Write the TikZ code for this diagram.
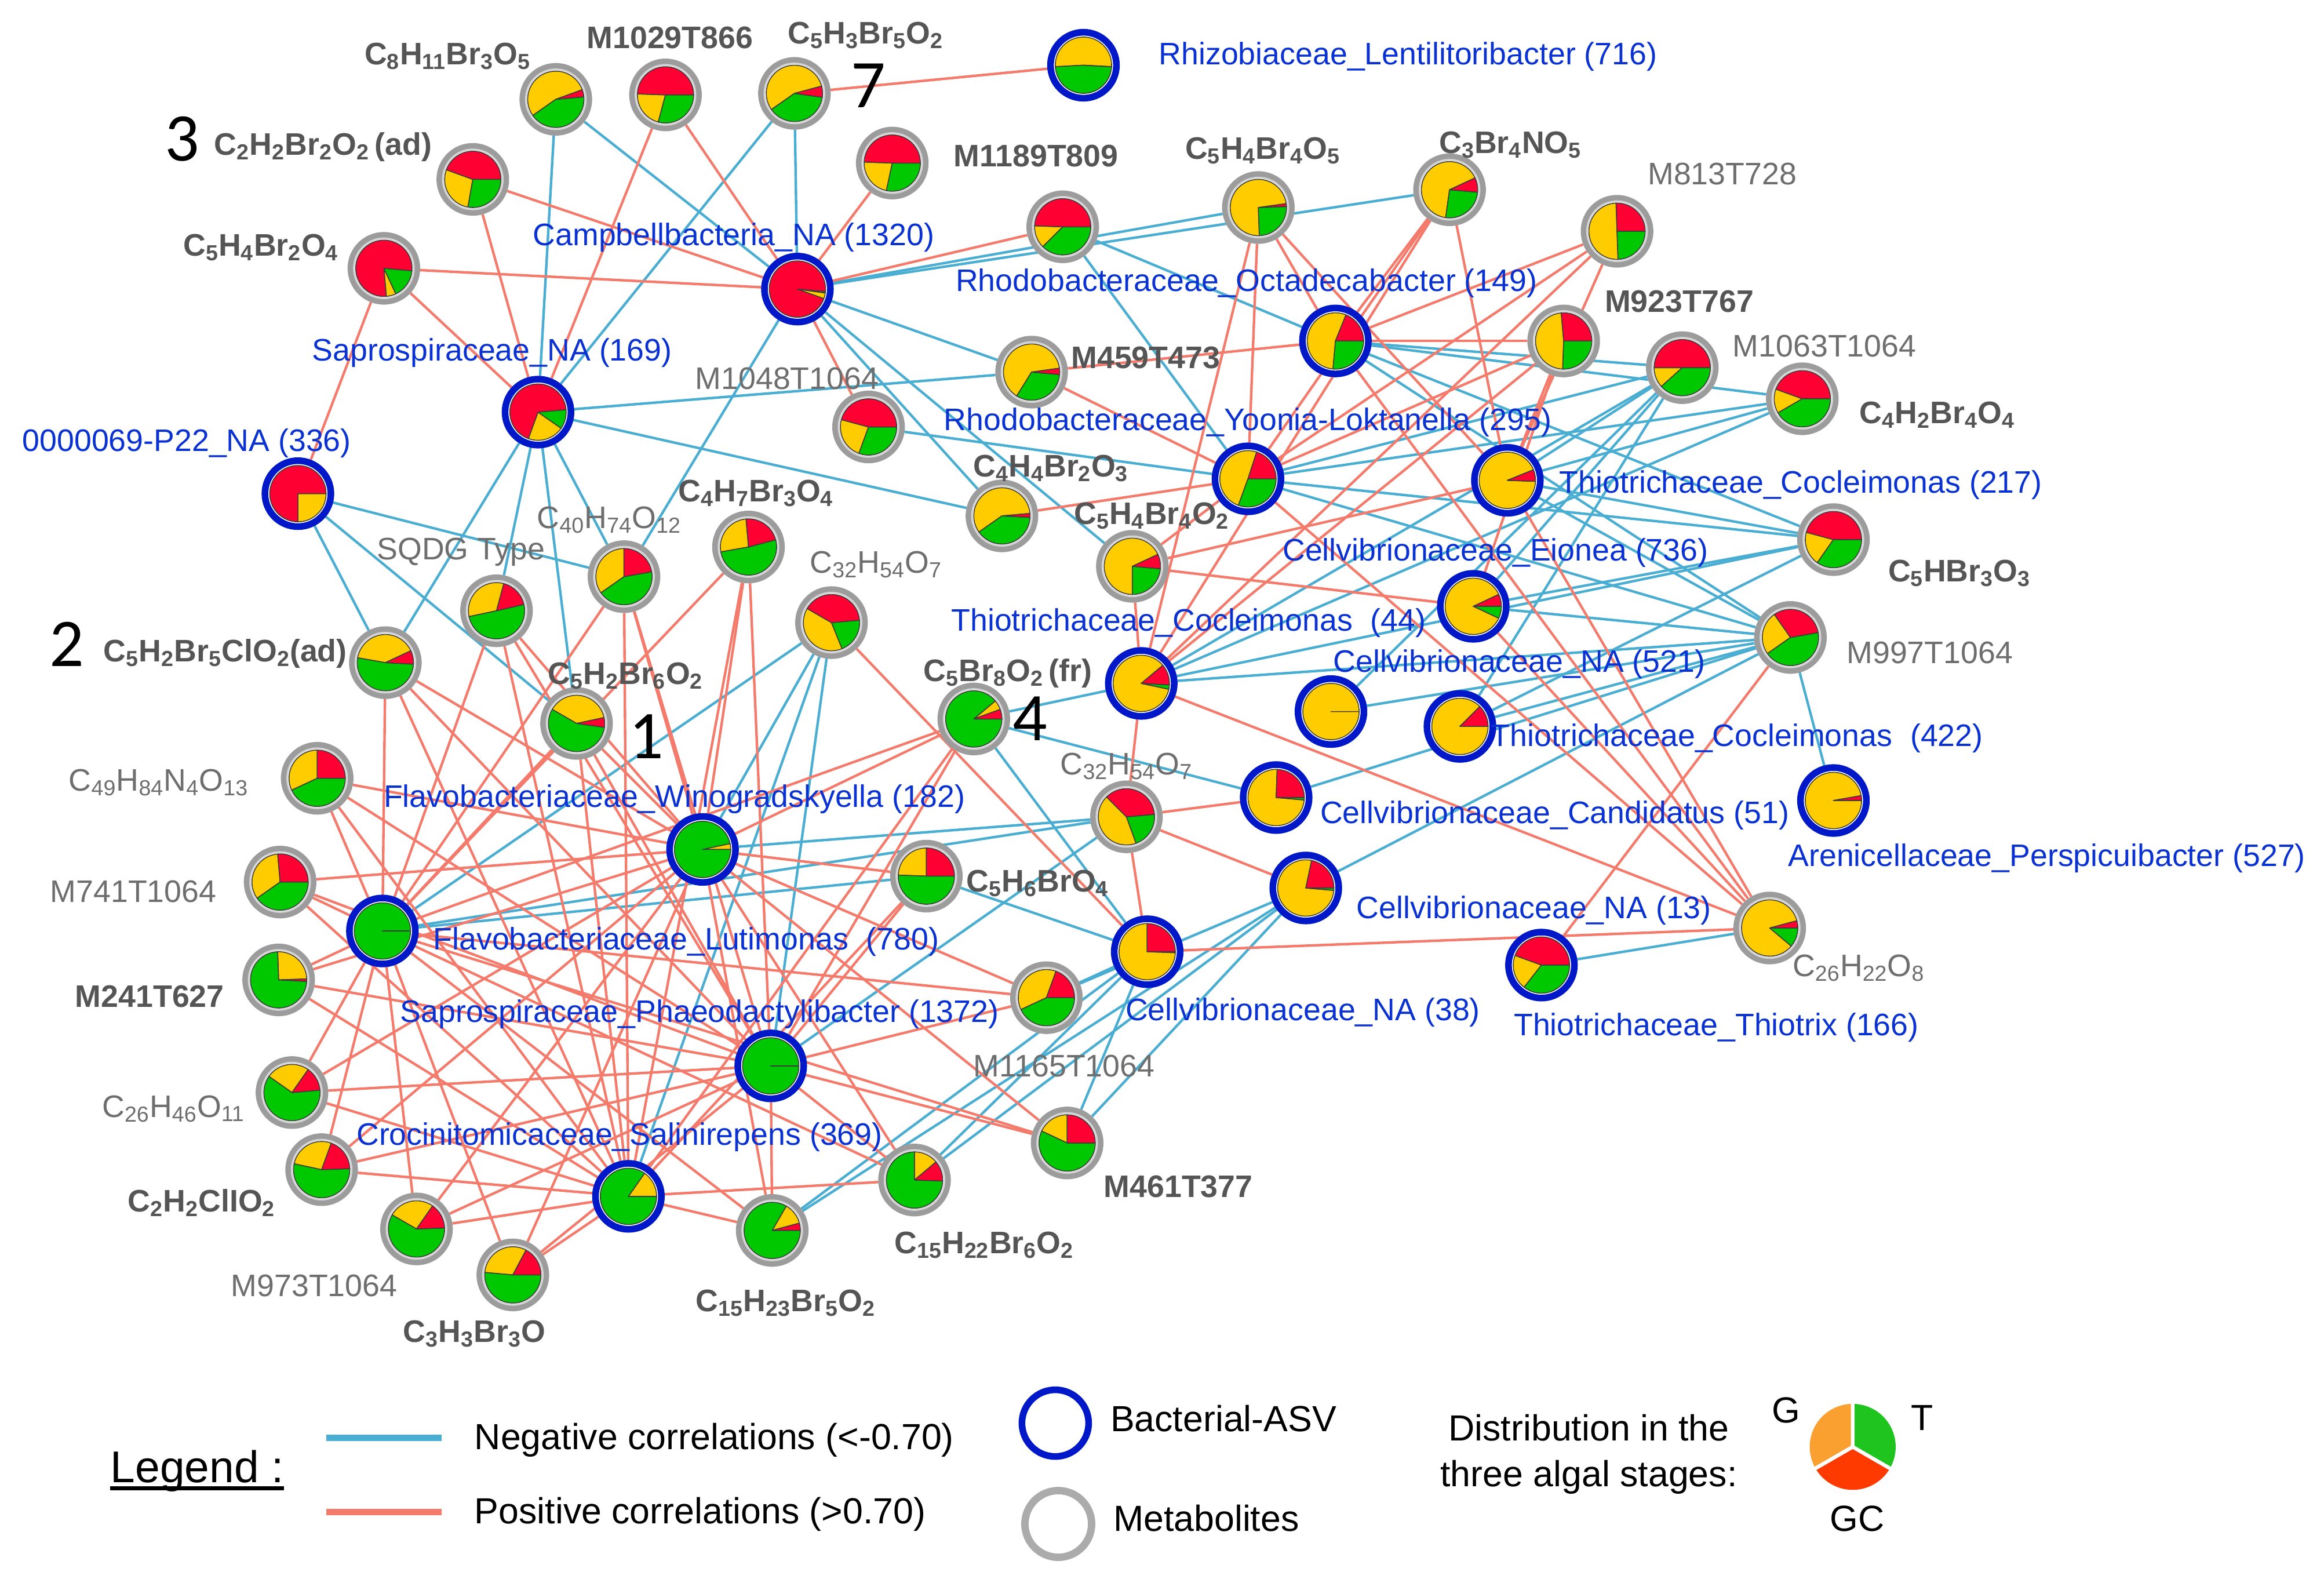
\documentclass[tikz,border=0pt]{standalone}
\usepackage{fontspec}
\setmainfont{Liberation Sans}
\newfontfamily\numfont{Carlito}
\usetikzlibrary{calc}
\pgfdeclarelayer{bglayer}
\pgfdeclarelayer{edgelayer}
\pgfsetlayers{bglayer,edgelayer,main}
\definecolor{pY}{HTML}{FFCC00}
\definecolor{pG}{HTML}{00C800}
\definecolor{pR}{HTML}{FF0033}
\definecolor{pline}{HTML}{3C3C3C}
\definecolor{metring}{HTML}{9C9C9C}
\definecolor{metinner}{HTML}{D4D4D4}
\definecolor{bacring}{HTML}{0018C8}
\definecolor{negc}{HTML}{4AAED3}
\definecolor{posc}{HTML}{F47A6C}
\definecolor{bactxt}{HTML}{0A32D2}
\definecolor{mbold}{HTML}{555555}
\definecolor{mreg}{HTML}{6E6E6E}
\definecolor{legO}{HTML}{F9A030}
\definecolor{legG}{HTML}{1FC41F}
\definecolor{legR}{HTML}{FF3A00}
\newcommand{\sbs}[1]{\textsubscript{#1}}
\newcommand{\pierad}{19pt}
\newcommand{\drawpie}[4]{%
  \pgfmathsetmacro\pxa{#2}\pgfmathsetmacro\pxb{#3}\pgfmathsetmacro\pxc{#4}\pgfmathsetmacro\pxd{#2+360}%
  \filldraw[fill=pY,draw=pline,line width=0.6pt,line join=round] (#1.center) -- ++(\pxa:\pierad) arc[start angle=\pxa,end angle=\pxb,radius=\pierad] -- cycle;
  \filldraw[fill=pG,draw=pline,line width=0.6pt,line join=round] (#1.center) -- ++(\pxb:\pierad) arc[start angle=\pxb,end angle=\pxc,radius=\pierad] -- cycle;
  \filldraw[fill=pR,draw=pline,line width=0.6pt,line join=round] (#1.center) -- ++(\pxc:\pierad) arc[start angle=\pxc,end angle=\pxd,radius=\pierad] -- cycle;
}
\newcommand{\metnd}[6]{\node[metnode] (#1) at (#2,#3) {};\draw[metinner,line width=1.2pt] (#1.center) circle[radius=20.2pt];\drawpie{#1}{#4}{#5}{#6}}
\newcommand{\bacnd}[6]{\node[bacnode] (#1) at (#2,#3) {};\drawpie{#1}{#4}{#5}{#6}}
\begin{document}
\begin{tikzpicture}[x=1pt,y=-1pt,
  metnode/.style={circle,draw=metring,line width=4pt,fill=white,minimum size=45pt,inner sep=0pt},
  bacnode/.style={circle,draw=bacring,line width=4.5pt,fill=white,minimum size=44.5pt,inner sep=0pt},
  negedge/.style={draw=negc,line width=1.7pt},
  posedge/.style={draw=posc,line width=1.7pt},
  lblbase/.style={inner sep=0pt,text height=15pt,text depth=0pt,font=\fontsize{21}{25}\selectfont},
  bactext/.style={lblbase,text=bactxt},
  metbold/.style={lblbase,text=mbold,font=\fontsize{21}{25}\selectfont\bfseries},
  metreg/.style={lblbase,text=mreg},
  bignum/.style={inner sep=0pt,text height=29pt,text depth=0pt,font=\numfont\fontsize{46}{50}\selectfont},
  legtext/.style={inner sep=0pt,text height=17.5pt,text depth=0pt,font=\fontsize{24.5}{29}\selectfont}]
\begin{pgfonlayer}{bglayer}
\fill[white] (0,0) rectangle (1568,1064.8);
\end{pgfonlayer}
\useasboundingbox (0,0) rectangle (1568,1064.8);
% ---------- nodes ----------
\metnd{m1}{375}{67}{20}{215}{365}
\metnd{m2}{449}{64}{178}{255}{360}
\metnd{m3}{536}{63}{15}{215}{352}
\bacnd{b1}{731}{44}{-3}{183}{357}
\metnd{m4}{319}{121}{160}{260}{360}
\metnd{m5}{602}{110}{178}{258}{360}
\metnd{m6}{717}{153}{178}{225}{360}
\metnd{m7}{849}{140}{8}{272}{362}
\metnd{m8}{978}{128}{25}{262}{355}
\metnd{m9}{1091}{156}{92}{272}{360}
\metnd{m10}{259}{181}{275}{295}{355}
\bacnd{b2}{538}{195}{340}{352}{355}
\bacnd{b3}{901}{230}{68}{265}{360}
\metnd{m11}{1055}{230}{95}{268}{360}
\metnd{m12}{1135}{248}{180}{222}{360}
\metnd{m13}{1216}{269}{160}{210}{360}
\bacnd{b4}{363}{278}{250}{325}{365}
\metnd{m14}{696}{251}{8}{238}{355}
\metnd{m15}{586}{288}{165}{250}{360}
\bacnd{b5}{201}{333}{270}{360}{360}
\bacnd{b6}{842}{323}{72}{250}{360}
\bacnd{b7}{1017}{324}{22}{358}{358}
\metnd{m16}{676}{348}{5}{215}{357}
\metnd{m17}{1237}{364}{165}{235}{360}
\metnd{m18}{505}{369}{95}{190}{375}
\metnd{m19}{421}{389}{90}{215}{370}
\metnd{m20}{335}{412}{75}{192}{373}
\metnd{m21}{561}{420}{150}{292}{365}
\metnd{m22}{764}{382}{25}{270}{355}
\bacnd{b8}{994}{409}{25}{335}{360}
\metnd{m23}{1208}{430}{125}{215}{370}
\metnd{m24}{260}{447}{25}{170}{357}
\metnd{m25}{389}{488}{12}{150}{352}
\metnd{m26}{657}{485}{20}{40}{360}
\bacnd{b9}{770}{461}{40}{348}{357}
\bacnd{b10}{898}{480}{0}{360}{360}
\bacnd{b11}{985}{490}{45}{360}{360}
\metnd{m27}{214}{525}{90}{205}{360}
\bacnd{b12}{474}{573}{0}{12}{360}
\metnd{m28}{760}{551}{135}{290}{365}
\bacnd{b13}{861}{538}{88}{355}{360}
\bacnd{b14}{1237}{540}{10}{360}{360}
\metnd{m29}{189}{595}{95}{215}{360}
\bacnd{b15}{258}{628}{0}{0}{360}
\metnd{m30}{625}{591}{90}{178}{360}
\bacnd{b16}{881}{599}{78}{355}{360}
\metnd{m31}{188}{661}{2}{92}{357}
\bacnd{b17}{774}{642}{90}{358}{360}
\bacnd{b18}{1040}{651}{160}{232}{360}
\metnd{m32}{1194}{626}{15}{320}{360}
\bacnd{b19}{520}{719}{0}{0}{360}
\metnd{m33}{706}{673}{70}{205}{360}
\metnd{m34}{197}{737}{55}{145}{365}
\bacnd{b20}{424}{807}{0}{55}{360}
\metnd{m35}{720}{771}{90}{155}{360}
\metnd{m36}{217}{789}{70}{168}{362}
\metnd{m37}{281}{829}{55}{150}{362}
\metnd{m38}{346}{860}{62}{175}{360}
\metnd{m39}{521}{830}{15}{60}{360}
\metnd{m40}{617}{796}{40}{90}{358}
% ---------- edges ----------
\begin{pgfonlayer}{edgelayer}
\foreach \u/\v in {b2/m1,b2/m3,b2/m7,b2/m8,b2/m14,b2/m16,b2/m19,b2/m22,%
b4/m1,b4/m3,b4/m14,b4/m16,b4/m24,b4/m20,b4/m25,b4/m19,%
b5/m19,b5/m25,b5/m24,%
b3/m6,b3/m12,b3/m17,b3/m23,b3/m13,%
b6/m6,b6/m15,b6/m12,b6/m13,b6/m17,b6/m23,%
b7/m12,b7/m13,b7/m17,b7/m23,%
b8/m12,b8/m17,b8/m23,%
b9/m12,b9/m13,b9/m17,b9/m23,b9/m26,%
b10/m23,b10/m12,b11/m23,b11/m17,b11/m12,%
b13/m23,b13/m26,b14/m23,%
b16/m23,b16/m33,b16/m35,b16/m39,b16/m40,%
b17/m26,b17/m30,b17/m33,b17/m35,b17/m39,b17/m40,%
b18/m32,b15/m21,b15/m28,b15/m30,b12/m21,b12/m28,b19/m21,b19/m28,b20/m21}
  \draw[negedge] (\u) -- (\v);
\foreach \u/\v in {b1/m3,b2/m2,b2/m4,b2/m5,b2/m6,b2/m10,b2/m15,b4/m2,b4/m4,b4/m10,b5/m10,%
b3/m7,b3/m8,b3/m9,b3/m11,b3/m14,b3/m32,%
b6/m7,b6/m8,b6/m9,b6/m11,b6/m14,b6/m16,b6/m22,b6/m32,%
b7/m7,b7/m8,b7/m9,b7/m11,b7/m22,b7/m32,%
b8/m22,b8/m32,b8/m11,%
b9/m7,b9/m8,b9/m9,b9/m11,b9/m22,b9/m28,b9/m32,%
b13/m28,b16/m28,b17/m21,b17/m28,b17/m32,b18/m23}
  \draw[posedge] (\u) -- (\v);
\foreach \g in {b12,b15,b19,b20}{\foreach \m in {m24,m25,m20,m19,m18,m27,m29,m31,m34,m36,m37,m38,m39,m40,m26}{\draw[posedge] (\g) -- (\m);}}
\foreach \g in {b12,b15,b19}{\foreach \m in {m35,m33}{\draw[posedge] (\g) -- (\m);}}
\foreach \g in {b12,b19,b20}{\draw[posedge] (\g) -- (m30);}
\end{pgfonlayer}
% ---------- metabolite labels ----------
\node[metbold] (t1) at (302,36) {C\sbs{8}H\sbs{11}Br\sbs{3}O\sbs{5}};
\node[metbold] (t2) at (452,25) {M1029T866};
\node[metbold] (t3) at (584,22) {C\sbs{5}H\sbs{3}Br\sbs{5}O\sbs{2}};
\node[metbold] (t4) at (218,97) {C\sbs{2}H\sbs{2}Br\sbs{2}O\sbs{2}\,(ad)};
\node[metbold] (t5) at (699,105) {M1189T809};
\node[metbold] (t6) at (176,165) {C\sbs{5}H\sbs{4}Br\sbs{2}O\sbs{4}};
\node[metbold] (t7) at (852,100) {C\sbs{5}H\sbs{4}Br\sbs{4}O\sbs{5}};
\node[metbold] (t8) at (1019,96) {C\sbs{3}Br\sbs{4}NO\sbs{5}};
\node[metbold] (t9) at (1133,203) {M923T767};
\node[metbold] (t10) at (773,241) {M459T473};
\node[metbold] (t11) at (1307,278) {C\sbs{4}H\sbs{2}Br\sbs{4}O\sbs{4}};
\node[metbold] (t12) at (709,314) {C\sbs{4}H\sbs{4}Br\sbs{2}O\sbs{3}};
\node[metbold] (t13) at (1322,385) {C\sbs{5}HBr\sbs{3}O\sbs{3}};
\node[metbold] (t14) at (510,331) {C\sbs{4}H\sbs{7}Br\sbs{3}O\sbs{4}};
\node[metbold] (t15) at (777,346) {C\sbs{5}H\sbs{4}Br\sbs{4}O\sbs{2}};
\node[metbold] (t16) at (152,439) {C\sbs{5}H\sbs{2}Br\sbs{5}ClO\sbs{2}(ad)};
\node[metbold] (t17) at (422,454) {C\sbs{5}H\sbs{2}Br\sbs{6}O\sbs{2}};
\node[metbold] (t18) at (680,452) {C\sbs{5}Br\sbs{8}O\sbs{2}\,(fr)};
\node[metbold] (t19) at (700,594) {C\sbs{5}H\sbs{6}BrO\sbs{4}};
\node[metbold] (t20) at (101,672) {M241T627};
\node[metbold] (t21) at (136,810) {C\sbs{2}H\sbs{2}ClIO\sbs{2}};
\node[metbold] (t22) at (320,898) {C\sbs{3}H\sbs{3}Br\sbs{3}O};
\node[metbold] (t23) at (530,877) {C\sbs{15}H\sbs{23}Br\sbs{5}O\sbs{2}};
\node[metbold] (t24) at (664,838) {C\sbs{15}H\sbs{22}Br\sbs{6}O\sbs{2}};
\node[metbold] (t25) at (795,800) {M461T377};
\node[metreg] (t26) at (1162,117) {M813T728};
\node[metreg] (t27) at (1231,233) {M1063T1064};
\node[metreg] (t28) at (531,255) {M1048T1064};
\node[metreg] (t29) at (411,349) {C\sbs{40}H\sbs{74}O\sbs{12}};
\node[metreg] (t30) at (311,370) {SQDG Type};
\node[metreg] (t31) at (591,379) {C\sbs{32}H\sbs{54}O\sbs{7}};
\node[metreg] (t32) at (1302,440) {M997T1064};
\node[metreg] (t33) at (107,526) {C\sbs{49}H\sbs{84}N\sbs{4}O\sbs{13}};
\node[metreg] (t34) at (90,601) {M741T1064};
\node[metreg] (t35) at (117,746) {C\sbs{26}H\sbs{46}O\sbs{11}};
\node[metreg] (t36) at (212,867) {M973T1064};
\node[metreg] (t37) at (718,719) {M1165T1064};
\node[metreg] (t38) at (1254,651) {C\sbs{26}H\sbs{22}O\sbs{8}};
\node[metreg] (t39) at (760,515) {C\sbs{32}H\sbs{54}O\sbs{7}};
% ---------- bacterial labels ----------
\node[bactext] (u1) at (950,36) {Rhizobiaceae\_Lentilitoribacter (716)};
\node[bactext] (u2) at (495,158) {Campbellbacteria\_NA (1320)};
\node[bactext] (u3) at (841,189) {Rhodobacteraceae\_Octadecabacter (149)};
\node[bactext] (u4) at (332,236) {Saprospiraceae\_NA (169)};
\node[bactext] (u5) at (126,297) {0000069-P22\_NA (336)};
\node[bactext] (u6) at (842,283) {Rhodobacteraceae\_Yoonia-Loktanella (295)};
\node[bactext] (u7) at (1215,325) {Thiotrichaceae\_Cocleimonas (217)};
\node[bactext] (u8) at (1009,371) {Cellvibrionaceae\_Eionea (736)};
\node[bactext] (u9) at (802,418) {Thiotrichaceae\_Cocleimonas\hspace{0.3em} (44)};
\node[bactext] (u10) at (1025,446) {Cellvibrionaceae\_NA (521)};
\node[bactext] (u11) at (1172,496) {Thiotrichaceae\_Cocleimonas\hspace{0.3em} (422)};
\node[bactext] (u12) at (455,537) {Flavobacteriaceae\_Winogradskyella (182)};
\node[bactext] (u13) at (1049,548) {Cellvibrionaceae\_Candidatus (51)};
\node[bactext] (u14) at (1381,577) {Arenicellaceae\_Perspicuibacter (527)};
\node[bactext] (u15) at (463,633) {Flavobacteriaceae\_Lutimonas\hspace{0.3em} (780)};
\node[bactext] (u16) at (1035,612) {Cellvibrionaceae\_NA (13)};
\node[bactext] (u17) at (472,682) {Saprospiraceae\_Phaeodactylibacter (1372)};
\node[bactext] (u18) at (879,681) {Cellvibrionaceae\_NA (38)};
\node[bactext] (u19) at (1158,691) {Thiotrichaceae\_Thiotrix (166)};
\node[bactext] (u20) at (418,765) {Crocinitomicaceae\_Salinirepens (369)};
% ---------- big numbers ----------
\node[bignum] (n7) at (586,58) {7};
\node[bignum] (n3) at (123,94) {3};
\node[bignum] (n2) at (45,435) {2};
\node[bignum] (n1) at (436,497) {1};
\node[bignum] (n4) at (695,485) {4};
% ---------- legend ----------
\node[inner sep=0pt,text height=22pt,text depth=0pt,font=\fontsize{30}{34}\selectfont] (legh) at (133,989) {Legend :};
\draw[line width=2.5pt] ([yshift=-4pt]legh.base west) -- ([yshift=-4pt]legh.base east);
\coordinate (ln1a) at (220,970);
\coordinate (ln1b) at (298,970);
\coordinate (ln2a) at (220,1020);
\coordinate (ln2b) at (298,1020);
\draw[negc,line width=4.5pt] (ln1a) -- (ln1b);
\draw[posc,line width=4.5pt] (ln2a) -- (ln2b);
\node[legtext,anchor=west] (lg1) at (320,969) {Negative correlations (<-0.70)};
\node[legtext,anchor=west] (lg2) at (320,1019) {Positive correlations (>0.70)};
\node[circle,draw=bacring,line width=4.5pt,minimum size=45pt,inner sep=0pt] (lgb) at (712,960) {};
\node[circle,draw=metring!85,line width=5pt,minimum size=45pt,inner sep=0pt] (lgm) at (714,1028) {};
\node[legtext,anchor=west] (lg3) at (749,957) {Bacterial-ASV};
\node[legtext,anchor=west] (lg4) at (751,1024) {Metabolites};
\node[legtext] (lg5) at (1072,963) {Distribution in the};
\node[legtext] (lg6) at (1072,994) {three algal stages:};
\coordinate (lp) at (1250,976);
\fill[legO] (lp) -- ++(90:29pt) arc[start angle=90,end angle=210,radius=29pt] -- cycle;
\fill[legR] (lp) -- ++(210:29pt) arc[start angle=210,end angle=330,radius=29pt] -- cycle;
\fill[legG] (lp) -- ++(330:29pt) arc[start angle=330,end angle=450,radius=29pt] -- cycle;
\draw[white,line width=2.5pt] (lp) -- ++(90:31pt) (lp) -- ++(210:31pt) (lp) -- ++(330:31pt);
\node[legtext] (lgG) at (1205,951) {G};
\node[legtext] (lgT) at (1297,956) {T};
\node[legtext] (lgGC) at (1253,1024) {GC};
\end{tikzpicture}
\end{document}
